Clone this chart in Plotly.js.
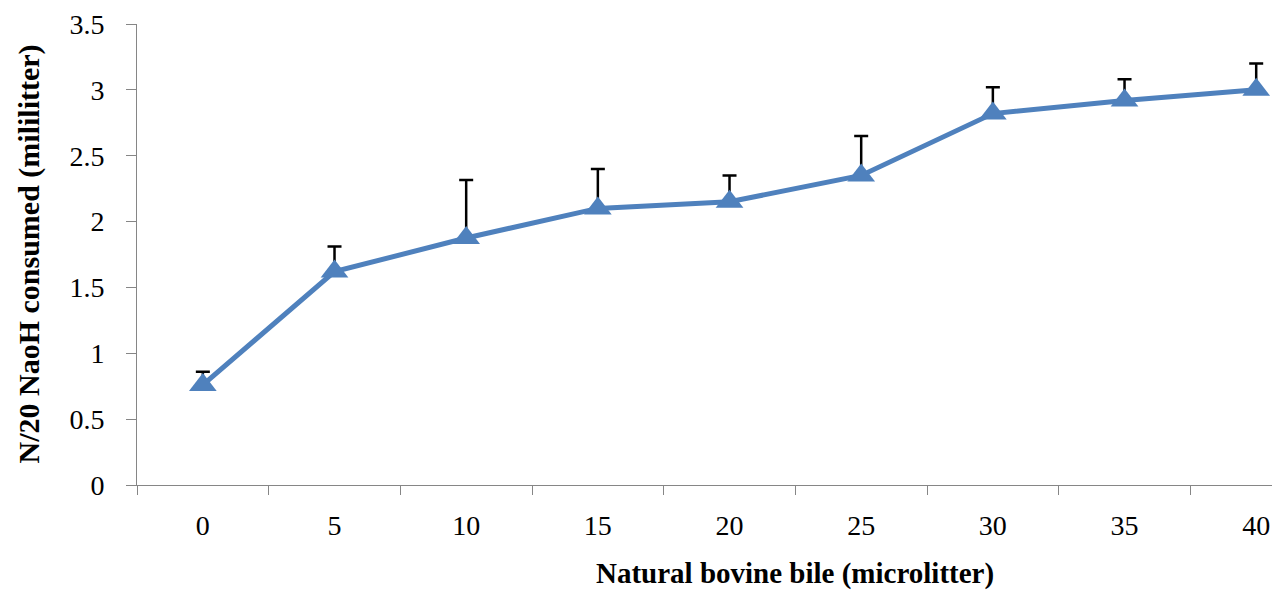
<!DOCTYPE html>
<html>
<head>
<meta charset="utf-8">
<script src="https://cdn.plot.ly/plotly-3.0.1.min.js"></script>
<style>html,body{margin:0;padding:0;background:#fff;}#chart{width:1272px;height:590px;}</style>
</head>
<body>
<div id="chart"></div>
<script>
const categories = ["0","5","10","15","20","25","30","35","40"];
const values = [0.76, 1.62, 1.875, 2.10, 2.15, 2.35, 2.82, 2.92, 3.00];
const errorsPlus = [0.10, 0.19, 0.44, 0.30, 0.20, 0.30, 0.20, 0.16, 0.20];
const yTickVals = [0, 0.5, 1, 1.5, 2, 2.5, 3, 3.5];
const yTickText = ["0", "0.5", "1", "1.5", "2", "2.5", "3", "3.5"];
const xTitle = "Natural bovine bile (microlitter)";
const yTitle = "N/20 NaoH consumed (mililitter)";

const trace = {
  x: categories,
  y: values,
  type: "scatter",
  mode: "lines+markers",
  line: {color: "#4f81bd", width: 5},
  marker: {symbol: "triangle-up", size: 24, color: "#4f81bd"},
  error_y: {type: "data", array: errorsPlus, symmetric: false, arrayminus: errorsPlus.map(() => 0), color: "#000000", thickness: 2.5, width: 7},
  cliponaxis: false
};

const layout = {
  width: 1272, height: 590,
  margin: {l: 137, r: 0, t: 24, b: 105},
  paper_bgcolor: "#ffffff",
  plot_bgcolor: "#ffffff",
  showlegend: false,
  font: {family: "Liberation Serif, Times New Roman, serif", color: "#000000", size: 28},
  xaxis: {
    type: "category",
    range: [-0.5, 8.12],
    tickson: "boundaries",
    ticks: "outside",
    ticklen: 9,
    tickcolor: "#868686",
    showline: true,
    linecolor: "#868686",
    linewidth: 1,
    showgrid: false,
    zeroline: false,
    ticklabelstandoff: 15,
    tickfont: {size: 28}
  },
  yaxis: {
    range: [0, 3.5],
    tickvals: yTickVals,
    ticktext: yTickText,
    ticks: "outside",
    ticklen: 10,
    tickcolor: "#868686",
    showline: true,
    linecolor: "#868686",
    linewidth: 1,
    showgrid: false,
    zeroline: false,
    ticklabelstandoff: 16,
    tickfont: {size: 28}
  },
  annotations: [{
    text: "<b>" + xTitle + "</b>",
    xref: "paper", yref: "paper",
    x: 0.58, y: -0.192, yanchor: "middle", xanchor: "center",
    showarrow: false, font: {size: 29}
  }, {
    text: "<b>" + yTitle + "</b>",
    xref: "paper", yref: "paper",
    x: -0.096, y: 0.5, xanchor: "center", yanchor: "middle",
    textangle: -90,
    showarrow: false, font: {size: 30}
  }]
};

Plotly.newPlot("chart", [trace], layout, {displayModeBar: false, staticPlot: true});
</script>
</body>
</html>
